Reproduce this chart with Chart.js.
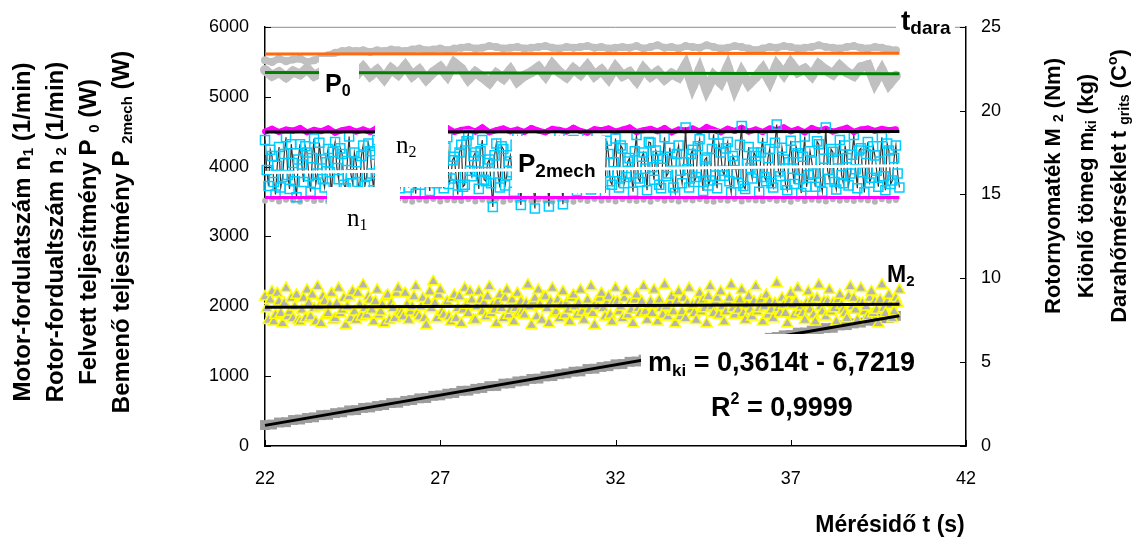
<!DOCTYPE html>
<html>
<head>
<meta charset="utf-8">
<script src="https://cdn.jsdelivr.net/npm/chart.js@4.4.0/dist/chart.umd.min.js"></script>
<style>
  html, body { margin: 0; padding: 0; background: #fff; }
  #container { width: 1138px; height: 540px; }
</style>
</head>
<body>
<div id="container"><canvas id="myChart" width="1138" height="540"></canvas></div>
<script>
// measurement time stamps (s), fast channels logged every 0.05 s
const tDense = [
  22.00, 22.05, 22.10, 22.15, 22.20, 22.25, 22.30, 22.35, 22.40, 22.45, 22.50, 22.55, 22.60, 22.65, 22.70, 22.75, 22.80, 22.85, 22.90, 22.95,
  23.00, 23.05, 23.10, 23.15, 23.20, 23.25, 23.30, 23.35, 23.40, 23.45, 23.50, 23.55, 23.60, 23.65, 23.70, 23.75, 23.80, 23.85, 23.90, 23.95,
  24.00, 24.05, 24.10, 24.15, 24.20, 24.25, 24.30, 24.35, 24.40, 24.45, 24.50, 24.55, 24.60, 24.65, 24.70, 24.75, 24.80, 24.85, 24.90, 24.95,
  25.00, 25.05, 25.10, 25.15, 25.20, 25.25, 25.30, 25.35, 25.40, 25.45, 25.50, 25.55, 25.60, 25.65, 25.70, 25.75, 25.80, 25.85, 25.90, 25.95,
  26.00, 26.05, 26.10, 26.15, 26.20, 26.25, 26.30, 26.35, 26.40, 26.45, 26.50, 26.55, 26.60, 26.65, 26.70, 26.75, 26.80, 26.85, 26.90, 26.95,
  27.00, 27.05, 27.10, 27.15, 27.20, 27.25, 27.30, 27.35, 27.40, 27.45, 27.50, 27.55, 27.60, 27.65, 27.70, 27.75, 27.80, 27.85, 27.90, 27.95,
  28.00, 28.05, 28.10, 28.15, 28.20, 28.25, 28.30, 28.35, 28.40, 28.45, 28.50, 28.55, 28.60, 28.65, 28.70, 28.75, 28.80, 28.85, 28.90, 28.95,
  29.00, 29.05, 29.10, 29.15, 29.20, 29.25, 29.30, 29.35, 29.40, 29.45, 29.50, 29.55, 29.60, 29.65, 29.70, 29.75, 29.80, 29.85, 29.90, 29.95,
  30.00, 30.05, 30.10, 30.15, 30.20, 30.25, 30.30, 30.35, 30.40, 30.45, 30.50, 30.55, 30.60, 30.65, 30.70, 30.75, 30.80, 30.85, 30.90, 30.95,
  31.00, 31.05, 31.10, 31.15, 31.20, 31.25, 31.30, 31.35, 31.40, 31.45, 31.50, 31.55, 31.60, 31.65, 31.70, 31.75, 31.80, 31.85, 31.90, 31.95,
  32.00, 32.05, 32.10, 32.15, 32.20, 32.25, 32.30, 32.35, 32.40, 32.45, 32.50, 32.55, 32.60, 32.65, 32.70, 32.75, 32.80, 32.85, 32.90, 32.95,
  33.00, 33.05, 33.10, 33.15, 33.20, 33.25, 33.30, 33.35, 33.40, 33.45, 33.50, 33.55, 33.60, 33.65, 33.70, 33.75, 33.80, 33.85, 33.90, 33.95,
  34.00, 34.05, 34.10, 34.15, 34.20, 34.25, 34.30, 34.35, 34.40, 34.45, 34.50, 34.55, 34.60, 34.65, 34.70, 34.75, 34.80, 34.85, 34.90, 34.95,
  35.00, 35.05, 35.10, 35.15, 35.20, 35.25, 35.30, 35.35, 35.40, 35.45, 35.50, 35.55, 35.60, 35.65, 35.70, 35.75, 35.80, 35.85, 35.90, 35.95,
  36.00, 36.05, 36.10, 36.15, 36.20, 36.25, 36.30, 36.35, 36.40, 36.45, 36.50, 36.55, 36.60, 36.65, 36.70, 36.75, 36.80, 36.85, 36.90, 36.95,
  37.00, 37.05, 37.10, 37.15, 37.20, 37.25, 37.30, 37.35, 37.40, 37.45, 37.50, 37.55, 37.60, 37.65, 37.70, 37.75, 37.80, 37.85, 37.90, 37.95,
  38.00, 38.05, 38.10, 38.15, 38.20, 38.25, 38.30, 38.35, 38.40, 38.45, 38.50, 38.55, 38.60, 38.65, 38.70, 38.75, 38.80, 38.85, 38.90, 38.95,
  39.00, 39.05, 39.10, 39.15, 39.20, 39.25, 39.30, 39.35, 39.40, 39.45, 39.50, 39.55, 39.60, 39.65, 39.70, 39.75, 39.80, 39.85, 39.90, 39.95,
  40.00, 40.05, 40.10
];
// the slower channels were logged every 0.2 s
const tCoarse = tDense.filter((t, i) => i % 4 === 0);

// grits temperature (C)
const tGrits = [
  23.0, 22.9, 23.1, 22.95, 23.05, 23.1, 22.9, 23.0, 23.15,
  23.3, 23.45, 23.55, 23.6,
  23.55, 23.6, 23.5, 23.6, 23.55, 23.65, 23.6, 23.55, 23.65, 23.7, 23.6, 23.65, 23.7, 23.6,
  23.7, 23.75, 23.8, 23.7, 23.75, 23.85, 23.8, 23.7, 23.75, 23.8, 23.7, 23.75,
  23.8, 23.85, 23.75, 23.7, 23.8, 23.75, 23.8, 23.85, 23.75, 23.8, 23.7, 23.75,
  23.8, 23.75, 23.85, 23.7, 23.8, 23.9, 23.75, 23.8, 23.7, 23.85,
  23.8, 23.75, 23.9, 23.8, 23.7, 23.75, 23.85, 23.8, 23.7, 23.6,
  23.7, 23.8, 23.75, 23.85, 23.8, 23.7, 23.75, 23.8, 23.9, 23.8,
  23.75, 23.7, 23.8, 23.85, 23.75, 23.7, 23.8, 23.75, 23.65, 23.6
];

// input power P0 (W)
const p0 = [
  5380, 5300, 5350, 5280, 5360, 5320, 5400, 5300, 5350,
  5330, 5380, 5290, 5350, 5310,
  5420, 5300, 5380, 5260, 5400, 5320, 5440, 5300, 5380, 5250, 5350, 5420, 5300,
  5480, 5400, 5250, 5350, 5280, 5200, 5330, 5260, 5380, 5220, 5300, 5350,
  5420, 5300, 5460, 5350, 5280, 5400, 5320, 5440, 5300,
  5380, 5260, 5420, 5300, 5350, 5230, 5400, 5290, 5360, 5250, 5330, 5280,
  5450, 5150, 5380, 5100, 5300, 5200, 5420, 5120, 5350, 5180, 5280, 5400, 5220,
  5450, 5320, 5480, 5350, 5400, 5300, 5460, 5380, 5320, 5440, 5350, 5300, 5420,
  5450, 5200, 5380, 5180, 5300
];

// rotor speed n2 (1/min)
const n2 = [
  4500, 4540, 4495, 4530, 4515, 4550, 4490, 4525, 4505, 4545,
  4485, 4520, 4540, 4500, 4530, 4495, 4555, 4510, 4490, 4535,
  4520, 4500, 4545, 4485, 4530, 4510, 4550, 4495, 4525, 4540,
  4500, 4560, 4490, 4520, 4545, 4505, 4530, 4495, 4550, 4515,
  4490, 4540, 4525, 4500, 4555, 4510, 4485, 4535, 4520, 4545,
  4500, 4530, 4560, 4495, 4520, 4540, 4505, 4550, 4490, 4530,
  4515, 4545, 4500, 4565, 4525, 4490, 4540, 4510, 4555, 4500,
  4530, 4495, 4545, 4520, 4560, 4505, 4535, 4490, 4550, 4515,
  4540, 4500, 4525, 4555, 4495, 4530, 4545, 4510, 4540, 4520, 4535
];

// motor speed n1 (1/min)
const n1 = [
  3510, 3530, 3500, 3525, 3515, 3495, 3535, 3505, 3520, 3500,
  3530, 3510, 3495, 3525, 3515, 3535, 3500, 3520, 3505, 3530,
  3515, 3495, 3525, 3510, 3535, 3500, 3520, 3515, 3505, 3530,
  3500, 3525, 3510, 3535, 3495, 3520, 3515, 3530, 3505, 3525,
  3510, 3500, 3530, 3515, 3495, 3525, 3505, 3535, 3510, 3520,
  3500, 3530, 3515, 3505, 3525, 3495, 3535, 3510, 3520, 3500,
  3525, 3515, 3530, 3505, 3495, 3520, 3510, 3535, 3500, 3525,
  3515, 3505, 3530, 3510, 3520, 3495, 3535, 3505, 3525, 3515,
  3500, 3530, 3510, 3520, 3505, 3525, 3515, 3495, 3530, 3510, 3520
];

// mechanical input power P2mech (W)
const p2mech = [
  4380, 3950, 3720, 4240, 4150, 3780, 3600, 4010, 4280, 3700, 3850, 4180, 4420, 3880, 3680, 4320, 4050, 3790, 3560, 4100,
  4320, 4030, 3780, 4290, 4200, 3860, 3640, 4120, 4400, 3750, 3900, 4340, 4100, 3820, 3700, 4060, 4250, 3920, 3580, 4210,
  4350, 3980, 3820, 4260, 4180, 3740, 3690, 4080, 4430, 3890, 3760, 4200, 4060, 3780, 3620, 4150, 4300, 3720, 3870, 4330,
  4220, 3900, 3660, 4170, 4380, 3940, 3800, 4310, 4120, 3770, 3720, 4050, 4440, 3860, 3590, 4230, 4260, 3690, 3840, 4110,
  4170, 3960, 3700, 4240, 4400, 3820, 3610, 4140, 4290, 3740, 3880, 4320, 4080, 3890, 3650, 4190, 4350, 3800, 3760, 4030,
  4230, 3980, 3690, 4270, 4420, 3750, 3830, 4090, 4140, 3870, 3600, 4200, 4310, 3710, 3740, 4360, 4460, 3940, 3860, 4150,
  4200, 3930, 3680, 4220, 4380, 3810, 3790, 4050, 4100, 3760, 3420, 4160, 4330, 3900, 3700, 4290, 4250, 3730, 3880, 4070,
  4160, 3920, 3640, 4310, 4410, 3870, 3450, 4130, 4270, 3720, 3820, 4240, 4060, 3810, 3400, 4180, 4350, 3960, 3750, 4280,
  4190, 3880, 3430, 4040, 4300, 3760, 3860, 4170, 4440, 3940, 3460, 4250, 4120, 3800, 3710, 4090, 4380, 3730, 3650, 4320,
  4240, 3950, 3780, 4190, 4420, 3830, 3670, 4280, 4080, 3700, 3890, 4130, 4330, 3910, 3620, 4370, 4180, 3790, 3740, 4060,
  4400, 3920, 3700, 4300, 4260, 3760, 3850, 4070, 4120, 3900, 3640, 4220, 4450, 3830, 3780, 4140, 4200, 3970, 3660, 4350,
  4340, 3990, 3810, 4230, 4150, 3740, 3690, 4110, 4420, 3860, 3900, 4270, 4070, 3700, 3620, 4180, 4300, 3940, 3760, 4060,
  4560, 3960, 3700, 4180, 4240, 3780, 3850, 4290, 4390, 3920, 3650, 4100, 4130, 3730, 3800, 4250, 4460, 3870, 3690, 4330,
  4200, 3940, 3870, 4260, 4350, 3790, 3630, 4150, 4080, 3900, 3760, 4310, 4580, 3720, 3680, 4040, 4280, 3980, 3830, 4200,
  4150, 3910, 3640, 4200, 4410, 3850, 3790, 4120, 4250, 3760, 3700, 4340, 4600, 3930, 3860, 4270, 4100, 3740, 3660, 4060,
  4370, 3970, 3750, 4290, 4190, 3820, 3620, 4140, 4430, 3710, 3880, 4220, 4070, 3900, 3710, 4360, 4320, 3780, 3640, 4110,
  4560, 3950, 3820, 4250, 4210, 3780, 3670, 4100, 4380, 3880, 3760, 4300, 4120, 3730, 3900, 4170, 4450, 3960, 3690, 4230,
  4260, 3920, 3630, 4180, 4350, 3770, 3840, 4290, 4160, 3940, 3710, 4070, 4420, 3860, 3660, 4330, 4230, 3750, 3800, 4120,
  4300, 3900, 3700
];

// rotor torque M2 (Nm)
const m2 = [
  8.9, 8.2, 7.5, 8.7, 9.2, 7.4, 7.8, 9.1, 8.6, 7.9, 7.3, 8.5, 9.4, 7.7, 8.0, 8.8, 7.6, 8.3, 9.0, 7.5,
  7.4, 8.1, 8.8, 7.6, 9.3, 8.5, 7.7, 9.0, 8.2, 7.4, 9.5, 8.3, 7.3, 8.9, 8.6, 7.8, 7.9, 8.4, 9.1, 7.5,
  7.6, 8.5, 9.4, 7.9, 8.1, 8.8, 7.2, 8.3, 8.9, 7.6, 9.2, 8.0, 7.5, 9.1, 8.4, 7.7, 9.6, 8.2, 7.8, 8.9,
  8.7, 8.1, 7.4, 8.6, 9.3, 7.8, 8.0, 8.4, 7.3, 8.9, 9.0, 7.5, 8.5, 8.2, 7.6, 9.1, 9.4, 8.0, 7.9, 7.7,
  9.1, 8.4, 7.5, 8.0, 8.3, 8.9, 9.5, 7.9, 7.7, 8.3, 8.8, 7.6, 7.2, 8.6, 9.2, 8.2, 9.8, 8.5, 7.6, 9.0,
  9.3, 8.0, 7.8, 8.5, 8.6, 7.7, 7.4, 8.8, 9.0, 7.6, 8.2, 8.9, 7.3, 8.1, 9.4, 8.4, 7.9, 9.2, 8.7, 7.5,
  7.5, 8.3, 9.2, 8.7, 8.0, 8.5, 7.7, 8.9, 9.5, 7.9, 8.4, 8.1, 7.3, 8.6, 9.0, 8.2, 7.6, 8.8, 9.3, 7.8,
  8.1, 8.7, 7.4, 8.2, 9.1, 7.9, 8.6, 8.0, 7.8, 8.5, 9.6, 8.3, 7.2, 8.6, 8.8, 7.7, 9.3, 8.4, 7.5, 8.9,
  8.9, 8.2, 7.3, 8.6, 9.4, 7.9, 8.0, 8.7, 7.6, 8.4, 9.2, 7.8, 8.5, 8.1, 7.4, 8.8, 9.0, 8.3, 7.8, 8.5,
  9.3, 8.0, 7.5, 8.4, 8.7, 8.1, 9.5, 7.9, 7.2, 8.6, 8.3, 8.8, 9.1, 8.2, 7.7, 8.5, 8.9, 7.8, 7.4, 8.6,
  9.4, 8.6, 8.0, 8.3, 7.6, 8.8, 9.2, 7.8, 8.5, 8.1, 7.3, 8.7, 9.0, 8.2, 7.9, 8.6, 9.5, 8.0, 7.5, 8.4,
  8.6, 7.9, 9.3, 8.4, 7.4, 8.7, 8.2, 7.8, 9.6, 8.3, 7.7, 8.5, 8.9, 8.0, 7.3, 8.6, 9.2, 7.7, 8.0, 8.8,
  7.6, 8.5, 9.4, 8.1, 8.4, 7.9, 7.5, 8.6, 9.1, 8.0, 8.7, 8.2, 7.3, 8.9, 9.5, 8.3, 7.9, 8.6, 8.8, 7.8,
  9.2, 8.3, 7.4, 8.0, 8.6, 8.8, 9.6, 8.2, 7.8, 8.5, 8.1, 8.7, 9.3, 7.9, 7.5, 8.4, 8.9, 8.1, 7.7, 8.6,
  9.5, 8.0, 8.2, 8.7, 7.4, 8.3, 9.0, 7.8, 8.6, 8.1, 7.6, 8.5, 9.7, 8.2, 7.9, 8.8, 8.4, 7.9, 7.3, 8.6,
  9.1, 8.4, 7.8, 8.6, 9.4, 8.0, 8.3, 7.9, 7.5, 8.5, 9.2, 8.1, 8.7, 7.8, 7.4, 8.8, 9.6, 8.3, 8.0, 8.6,
  7.7, 8.6, 9.3, 8.0, 8.5, 8.2, 7.4, 8.7, 9.0, 8.4, 8.1, 7.9, 7.6, 8.9, 9.5, 8.3, 8.8, 8.1, 7.5, 8.5,
  9.4, 8.5, 8.0, 8.3, 7.7, 8.8, 9.2, 7.9, 8.6, 8.1, 7.3, 8.7, 9.6, 8.2, 7.9, 8.6, 9.0, 8.4, 7.6, 8.0,
  8.8, 8.5, 9.3
];

// separated mass m_ki (kg)
const mKi = [
  1.25, 1.28, 1.40, 1.42, 1.55, 1.58, 1.67, 1.71, 1.84, 1.86,
  1.96, 2.01, 2.12, 2.14, 2.27, 2.30, 2.39, 2.44, 2.56, 2.58,
  2.69, 2.74, 2.84, 2.86, 2.99, 3.02, 3.12, 3.16, 3.29, 3.30,
  3.41, 3.46, 3.57, 3.58, 3.72, 3.74, 3.85, 3.89, 4.00, 4.02,
  4.15, 4.17, 4.28, 4.33, 4.43, 4.45, 4.59, 4.61, 4.71, 4.76,
  4.87, 4.89, 5.02, 5.04, 5.15, 5.19, 5.30, 5.32, 5.45, 5.47,
  5.58, 5.63, 5.73, 5.75, 5.89, 5.91, 6.01, 6.06, 6.17, 6.19,
  6.32, 6.34, 6.45, 6.50, 6.60, 6.62, 6.76, 6.77, 6.88, 6.93,
  7.03, 7.05, 7.19, 7.21, 7.31, 7.36, 7.47, 7.49, 7.62, 7.64,
  7.76
];

// trend lines, evaluated at the first and last sample
const fitT = [22, 40.1];
const tGritsFit = [23.38, 23.43];
const p0Fit = [5346, 5327];
const n1Fit = [3557, 3557];
const n2Fit = [4496, 4500];
const p2mechFit = [3915, 4010];
const m2Fit = [8.27, 8.45];
// linear fit of the separated mass
const mKiSlope = 0.3614;
const mKiIntercept = -6.7219;
const mKiR2 = 0.9999;

const SANS = "'Liberation Sans', Arial, sans-serif";
const SERIF = "'Liberation Serif', 'Times New Roman', serif";

function pts(ts, vs) {
  return vs.map((v, i) => ({ x: ts[i], y: v }));
}

function marks(label, ts, vs, axis, order, style) {
  return Object.assign({
    label, data: pts(ts, vs), yAxisID: axis, order,
    showLine: false, clip: false, borderWidth: 0
  }, style);
}

function fitLine(label, vs, axis, order, color) {
  return {
    label, data: pts(fitT, vs), yAxisID: axis, order,
    showLine: true, clip: false, pointRadius: 0,
    borderColor: color, borderWidth: 3
  };
}

const mKiFitVals = fitT.map(t => mKiSlope * t + mKiIntercept);

// draws a run of text pieces, each with its own font and vertical shift
function rich(ctx, parts, x, y, align) {
  let w = 0;
  parts.forEach(p => { ctx.font = p.f; w += ctx.measureText(p.t).width; });
  let cx = align === 'center' ? x - w / 2 : x;
  parts.forEach(p => {
    ctx.font = p.f;
    ctx.fillText(p.t, cx, y + (p.dy || 0));
    cx += ctx.measureText(p.t).width;
  });
}

function vtitle(ctx, parts, cx, cy) {
  ctx.save();
  ctx.translate(cx, cy);
  ctx.rotate(-Math.PI / 2);
  rich(ctx, parts, 0, 8, 'center');
  ctx.restore();
}

function whiteBox(ctx, x, y, w, h) {
  ctx.fillStyle = '#fff';
  ctx.fillRect(x, y, w, h);
  ctx.fillStyle = '#000';
}

const BL = 'bold 24px ' + SANS;
const SL = 'bold 15px ' + SANS;
const BR = 'bold 22px ' + SANS;
const SR = 'bold 14px ' + SANS;

const decorations = {
  id: 'decorations',
  beforeDatasetsDraw(chart) {
    const { ctx, chartArea: a, scales } = chart;
    ctx.save();
    // plot area frame on top
    ctx.strokeStyle = '#8c8c8c';
    ctx.lineWidth = 1;
    ctx.beginPath();
    ctx.moveTo(a.left, a.top + 0.5);
    ctx.lineTo(a.right, a.top + 0.5);
    ctx.stroke();
    // inward tick marks
    ctx.strokeStyle = '#000';
    ctx.beginPath();
    scales.x.ticks.forEach(t => {
      const px = Math.round(scales.x.getPixelForValue(t.value)) + 0.5;
      ctx.moveTo(px, a.bottom); ctx.lineTo(px, a.bottom - 6);
    });
    scales.y.ticks.forEach(t => {
      const py = Math.round(scales.y.getPixelForValue(t.value)) + 0.5;
      ctx.moveTo(a.left, py); ctx.lineTo(a.left + 6, py);
    });
    scales.y2.ticks.forEach(t => {
      const py = Math.round(scales.y2.getPixelForValue(t.value)) + 0.5;
      ctx.moveTo(a.right, py); ctx.lineTo(a.right - 6, py);
    });
    ctx.stroke();
    ctx.restore();
  },
  afterDatasetsDraw(chart) {
    const { ctx } = chart;
    ctx.save();
    ctx.textBaseline = 'alphabetic';
    ctx.textAlign = 'left';
    ctx.fillStyle = '#000';

    // series labels sitting on white boxes
    whiteBox(ctx, 319, 57, 40, 40);
    rich(ctx, [{ t: 'P', f: 'bold 25px ' + SANS }, { t: '0', f: 'bold 16px ' + SANS, dy: 4 }], 325, 92);

    whiteBox(ctx, 375, 110, 73, 77);
    rich(ctx, [{ t: 'n', f: '25px ' + SERIF }, { t: '2', f: '16px ' + SERIF, dy: 4 }], 396, 153);

    whiteBox(ctx, 327, 187, 73, 50);
    rich(ctx, [{ t: 'n', f: '25px ' + SERIF }, { t: '1', f: '16px ' + SERIF, dy: 4 }], 347, 226);

    whiteBox(ctx, 512, 136, 93, 57);
    rich(ctx, [{ t: 'P', f: 'bold 26px ' + SANS }, { t: '2mech', f: 'bold 19px ' + SANS, dy: 5 }], 518, 172);

    whiteBox(ctx, 896, 0, 59, 40);
    rich(ctx, [{ t: 't', f: 'bold 28px ' + SANS }, { t: 'dara', f: 'bold 19px ' + SANS, dy: 4 }], 901, 30);

    rich(ctx, [{ t: 'M', f: 'bold 23px ' + SANS }, { t: '2', f: 'bold 15px ' + SANS, dy: 4 }], 887, 282);

    // trend line equation of the separated mass
    const fmt = v => v.toFixed(4).replace('.', ',');
    whiteBox(ctx, 641, 334, 280, 92);
    rich(ctx, [
      { t: 'm', f: 'bold 27px ' + SANS },
      { t: 'ki', f: 'bold 17px ' + SANS, dy: 5 },
      { t: ' = ' + fmt(mKiSlope) + 't - ' + fmt(-mKiIntercept), f: 'bold 27px ' + SANS }
    ], 648, 371);
    rich(ctx, [
      { t: 'R', f: 'bold 27px ' + SANS },
      { t: '2', f: 'bold 16px ' + SANS, dy: -12 },
      { t: ' = ' + fmt(mKiR2), f: 'bold 27px ' + SANS }
    ], 711, 416);

    // axis titles
    const lx = [22, 55, 88, 121];
    const leftTitles = [
      [{ t: 'Motor-fordulatszám n', f: BL }, { t: '1', f: SL, dy: 3 }, { t: ' (1/min)', f: BL }],
      [{ t: 'Rotor-fordualtszám n', f: BL }, { t: ' 2', f: SL, dy: 3 }, { t: ' (1/min)', f: BL }],
      [{ t: 'Felvett teljesítmény P ', f: BL }, { t: '0', f: SL, dy: 3 }, { t: ' (W)', f: BL }],
      [{ t: 'Bemenő teljesítmény P ', f: BL }, { t: '2mech', f: SL, dy: 3 }, { t: ' (W)', f: BL }]
    ];
    leftTitles.forEach((parts, i) => vtitle(ctx, parts, lx[i], 232));

    const rx = [1052, 1085, 1118];
    const rightTitles = [
      [{ t: 'Rotornyomaték M ', f: BR }, { t: '2', f: SR, dy: 3 }, { t: ' (Nm)', f: BR }],
      [{ t: 'Kiönlő tömeg m', f: BR }, { t: 'ki', f: SR, dy: 3 }, { t: ' (kg)', f: BR }],
      [{ t: 'Darahőmérséklet t ', f: BR }, { t: 'grits', f: SR, dy: 3 }, { t: ' (C', f: BR },
       { t: 'o', f: SR, dy: -9 }, { t: ')', f: BR }]
    ];
    rightTitles.forEach((parts, i) => vtitle(ctx, parts, rx[i], 186));

    ctx.font = 'bold 23px ' + SANS;
    ctx.textAlign = 'center';
    ctx.fillText('Mérésidő t (s)', 890, 532);
    ctx.restore();
  }
};

const tickFont = { family: SANS, size: 18 };

new Chart(document.getElementById('myChart').getContext('2d'), {
  type: 'scatter',
  data: {
    datasets: [
      marks('t grits', tCoarse, tGrits, 'y2', 20, {
        showLine: true, borderColor: '#c0c0c0', borderWidth: 7,
        pointRadius: 4, pointBackgroundColor: '#c0c0c0', pointBorderWidth: 0
      }),
      marks('P0', tCoarse, p0, 'y', 19, {
        showLine: true, borderColor: '#c0c0c0', borderWidth: 10,
        pointRadius: 5, pointBackgroundColor: '#c0c0c0', pointBorderWidth: 0
      }),
      fitLine('t grits trend', tGritsFit, 'y2', 18, '#ff6a10'),
      fitLine('P0 trend', p0Fit, 'y', 17, '#008000'),
      marks('n1', tCoarse, n1, 'y', 16, {
        pointRadius: 3, pointBackgroundColor: '#b4b4b4', pointBorderWidth: 0
      }),
      marks('n2', tCoarse, n2, 'y', 14, {
        showLine: true, borderColor: '#ff00ff', borderWidth: 6,
        pointRadius: 3, pointBackgroundColor: '#ff00ff', pointBorderWidth: 0
      }),
      marks('P2mech', tDense, p2mech, 'y', 13, {
        showLine: true, borderColor: '#333333', borderWidth: 1.2,
        pointStyle: 'rect', pointRadius: 6.4, pointBorderColor: '#00ccff',
        pointBackgroundColor: 'rgba(255,255,255,0)', pointBorderWidth: 1.5
      }),
      fitLine('n1 trend', n1Fit, 'y', 12.5, '#ff00ff'),
      fitLine('n2 trend', n2Fit, 'y', 12, '#000'),
      fitLine('P2mech trend', p2mechFit, 'y', 11, '#fff'),
      marks('m ki', tCoarse, mKi, 'y2', 10, {
        pointStyle: 'rect', pointRadius: 7, pointBackgroundColor: '#9c9c9c', pointBorderWidth: 0
      }),
      marks('M2', tDense, m2, 'y2', 9, {
        pointStyle: 'triangle', pointRadius: 6.3, pointBorderColor: '#ffff00',
        pointBackgroundColor: '#b4b4b4', pointBorderWidth: 1.5
      }),
      fitLine('M2 trend', m2Fit, 'y2', 8, '#000'),
      fitLine('m ki trend', mKiFitVals, 'y2', 7, '#000')
    ]
  },
  options: {
    responsive: false,
    devicePixelRatio: 1,
    animation: false,
    events: [],
    layout: { padding: { top: 23, left: 0, right: 0, bottom: 0 } },
    elements: { line: { tension: 0 } },
    plugins: { legend: { display: false }, tooltip: { enabled: false }, title: { display: false } },
    scales: {
      x: {
        type: 'linear', min: 22, max: 42,
        grid: { display: false, drawTicks: false },
        border: { display: true, color: '#000', width: 1.5 },
        ticks: { stepSize: 5, padding: 22, color: '#000', font: tickFont, callback: v => String(v) },
        afterFit: s => { s.height = 94; }
      },
      y: {
        position: 'left', min: 0, max: 6000,
        grid: { display: false, drawTicks: false },
        border: { display: true, color: '#000', width: 1.5 },
        ticks: { stepSize: 1000, padding: 16, color: '#000', font: tickFont, callback: v => String(v) },
        afterFit: s => { s.width = 265; }
      },
      y2: {
        position: 'right', min: 0, max: 25,
        grid: { display: false, drawTicks: false },
        border: { display: true, color: '#000', width: 1.5 },
        ticks: { stepSize: 5, padding: 15, color: '#000', font: tickFont, callback: v => String(v) },
        afterFit: s => { s.width = 1138 - 966; }
      }
    }
  },
  plugins: [decorations]
});
</script>
</body>
</html>
